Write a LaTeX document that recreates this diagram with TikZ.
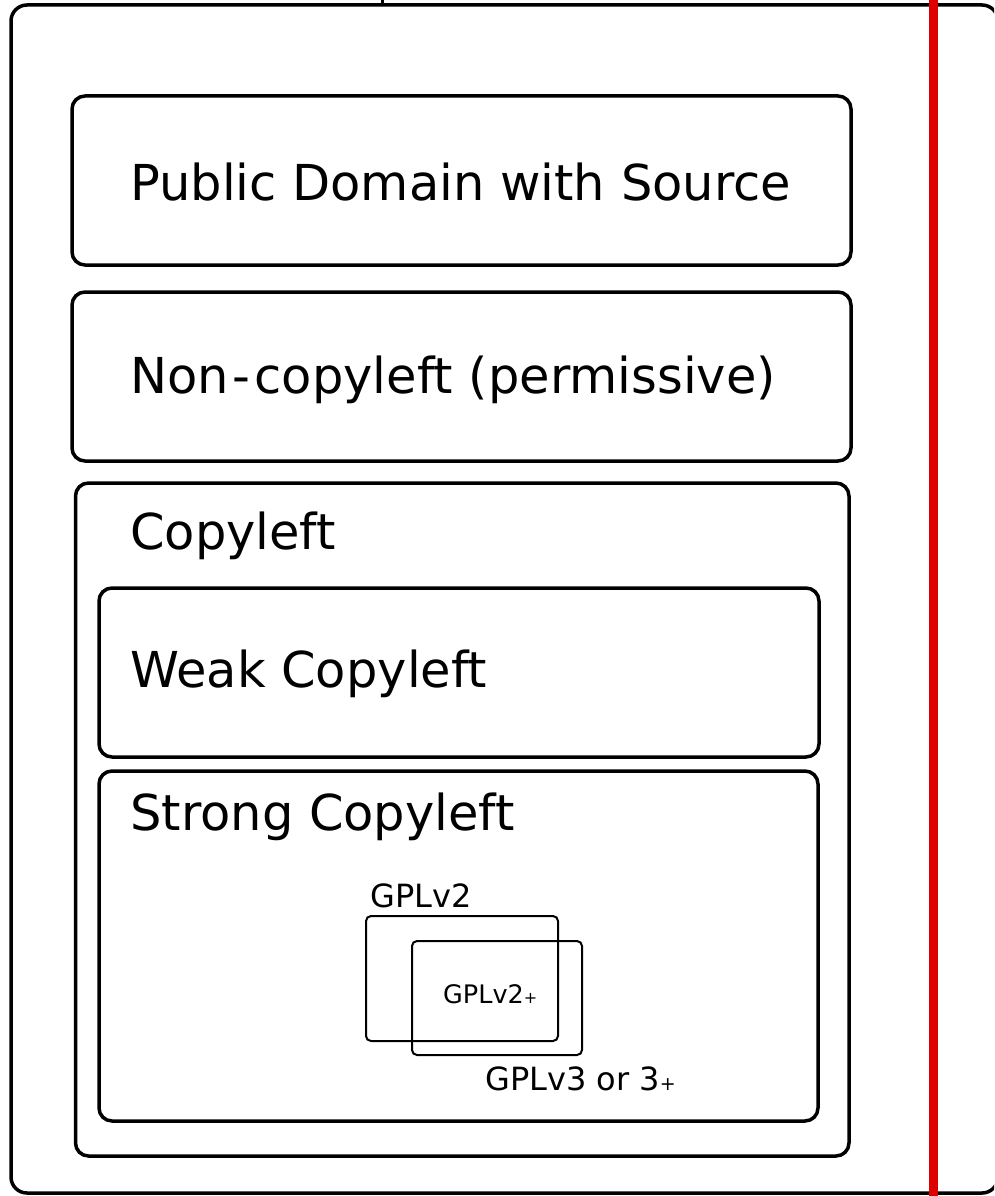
\documentclass[tikz,border=0pt]{standalone}
\usepackage{fontspec}
\setmainfont{DejaVu Sans}
\begin{document}
\begin{tikzpicture}[x=1pt,y=-1pt,
  bigbox/.style={draw=black,line width=3.5pt,rounded corners=13pt},
  gplbox/.style={draw=black,line width=2pt,rounded corners=5pt},
  bigtext/.style={anchor=base west,inner sep=0pt,font=\fontsize{49.5}{55}\selectfont},
  midtext/.style={anchor=base west,inner sep=0pt,font=\fontsize{32}{36}\selectfont},
  smalltext/.style={anchor=base west,inner sep=0pt,font=\fontsize{25.5}{29}\selectfont}]
\useasboundingbox (0,0) rectangle (994,1196);
\clip (0,0) rectangle (994,1196);
% outer box
\draw[draw=black,line width=3.5pt,rounded corners=16pt] (11,5) rectangle (998,1193);
\coordinate (tickTop) at (382,0);
\coordinate (tickBot) at (382,5);
\draw[line width=3pt] (tickTop) -- (tickBot);
% boxes
\draw[bigbox] (72,96) rectangle (851,265);
\draw[bigbox] (72,292) rectangle (851,461);
\draw[bigbox] (75.5,483) rectangle (849,1156);
\draw[bigbox] (99,588) rectangle (819,757);
\draw[bigbox] (99,771) rectangle (818,1121);
\draw[gplbox] (366,916) rectangle (558,1041);
\draw[gplbox] (412,941) rectangle (582,1055);
% texts
\node[bigtext] (pd) at (130,200) {Public Domain with Source};
\node[bigtext] (nc) at (130,393) {Non\kern4pt-\kern4pt copyleft (permissive)};
\node[bigtext] (cl) at (130,549) {Copyleft};
\node[bigtext] (wc) at (130,687) {Weak Copyleft};
\node[bigtext] (sc) at (130,830) {Strong Copyleft};
\node[midtext] (g2) at (370,907) {GPLv2};
\node[smalltext] (g2p) at (443,1003) {GPLv2{\fontsize{16}{18}\selectfont+}};
\node[midtext] (g3) at (485,1090) {GPLv3 or 3{\fontsize{19}{21}\selectfont+}};
% red line
\coordinate (redTop) at (933,0);
\coordinate (redBot) at (933,1196);
\draw[draw={rgb,255:red,221;green,0;blue,0},line width=9pt] (redTop) -- (redBot);
\end{tikzpicture}
\end{document}
